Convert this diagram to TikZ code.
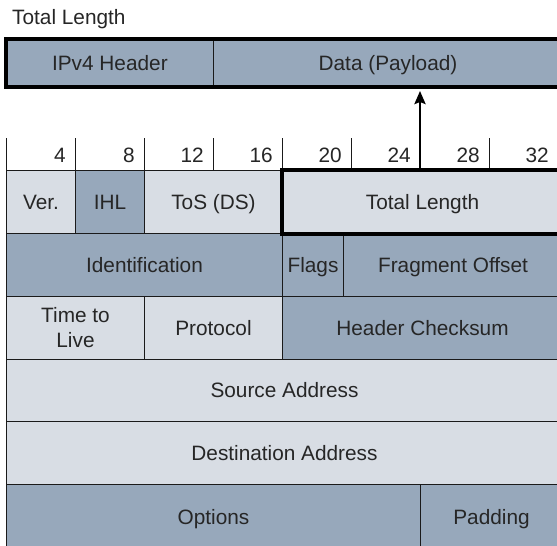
\documentclass[tikz,border=0pt]{standalone}
\usepackage{fontspec}
\setmainfont{Liberation Sans}
\usetikzlibrary{arrows.meta}
\definecolor{lightc}{HTML}{D8DDE4}
\definecolor{darkc}{HTML}{97A8BB}
\definecolor{linec}{HTML}{1A1A1A}
\definecolor{textc}{HTML}{262626}
\tikzset{
  cellbase/.style={draw=linec, line width=1pt, inner sep=0pt, anchor=north west,
    text=textc, font=\fontsize{20.8}{25}\selectfont, align=center},
  oneline/.style={text height=15pt, text depth=0pt},
  lightcell/.style={cellbase, fill=lightc},
  darkcell/.style={cellbase, fill=darkc},
  thickbox/.style={draw=black, line width=4.5pt},
  ticktext/.style={anchor=base east, inner sep=0pt, text=textc, font=\fontsize{20.8}{25}\selectfont},
  tickline/.style={draw=linec, line width=1pt},
  uparrow/.style={draw=black, line width=2.5pt, -{Stealth[length=13pt,width=11pt,inset=2pt]}, shorten >=4pt}
}
% \cellnode{name}{style}{x1}{y1}{x2}{y2}{text}
\newcommand{\cellnode}[7]{%
  \node[#2, minimum width={#5pt-#3pt}, minimum height={#6pt-#4pt}] (#1) at (#3,#4) {#7};}
\begin{document}
\begin{tikzpicture}[x=1pt,y=-1pt]
\useasboundingbox (0,0) rectangle (557,546);
\fill[white] (0,0) rectangle (557,546);

% title
\node[anchor=base west, inner sep=0pt, text=textc, font=\fontsize{20.8}{25}\selectfont] (title) at (12,24.5) {Total Length};

% top bar
\cellnode{hdr}{darkcell,oneline}{5.8}{39}{213}{86}{IPv4 Header}
\cellnode{data}{darkcell,oneline}{213}{39}{562}{86}{Data (Payload)}
\draw[thickbox] (hdr.north west) rectangle (data.south east);

% bit ticks
\foreach \x/\n in {6/0,75/4,144/8,213/12,282/16,351/20,489/28,558/32} {
  \coordinate (t\n) at (\x,138);
  \draw[tickline] (t\n) -- (\x,170);
}
\foreach \x/\n in {75/4,144/8,213/12,282/16,351/20,420/24,489/28,558/32} {
  \node[ticktext] (n\n) at (\x-9,162) {\n};
}

% row 1
\cellnode{ver}{lightcell,oneline}{6}{170}{75}{233}{Ver.}
\cellnode{ihl}{darkcell,oneline}{75}{170}{144}{233}{IHL}
\cellnode{tos}{lightcell,oneline}{144}{170}{282}{233}{ToS (DS)}
% row 2
\cellnode{ident}{darkcell,oneline}{6}{233}{282}{296}{Identification}
\cellnode{flags}{darkcell,oneline}{282}{233}{343}{296}{Flags}
\cellnode{frag}{darkcell,oneline}{343}{233}{562}{296}{Fragment Offset}
% row 3
\cellnode{ttl}{lightcell}{6}{296}{144}{358.5}{Time to\\Live}
\cellnode{proto}{lightcell,oneline}{144}{296}{282}{358.5}{Protocol}
\cellnode{chk}{darkcell,oneline}{282}{296}{562}{358.5}{Header Checksum}
% row 4
\cellnode{src}{lightcell,oneline}{6}{358.5}{562}{421}{Source Address}
% row 5
\cellnode{dst}{lightcell,oneline}{6}{421}{562}{484}{Destination Address}
% row 6
\cellnode{opt}{darkcell,oneline}{6}{484}{420}{549}{Options}
\cellnode{pad}{darkcell,oneline}{420}{484}{562}{549}{Padding}

% total length (highlighted)
\cellnode{tl}{lightcell,oneline}{282}{170}{562}{233}{Total Length}
\draw[thickbox] (tl.north west) rectangle (tl.south east);

% arrow
\coordinate (b24) at (420,0);
\draw[uparrow] (tl.north -| b24) -- (data.south -| b24);
\end{tikzpicture}
\end{document}
